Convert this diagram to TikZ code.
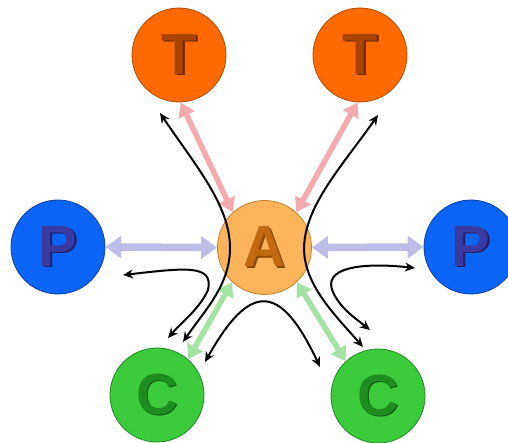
\documentclass[tikz,border=0pt]{standalone}
\usepackage{fontspec}
\setmainfont{Liberation Sans}
\usetikzlibrary{arrows.meta}
\definecolor{tfill}{HTML}{FF6A00}
\definecolor{tline}{HTML}{B04A00}
\definecolor{tink}{HTML}{A84400}
\definecolor{tshade}{HTML}{6E2600}
\definecolor{pfill}{HTML}{0A64F5}
\definecolor{pline}{HTML}{1040A0}
\definecolor{pink}{HTML}{3A3AA0}
\definecolor{pshade}{HTML}{20206E}
\definecolor{afill}{HTML}{FBB45A}
\definecolor{aline}{HTML}{C08030}
\definecolor{aink}{HTML}{C06A10}
\definecolor{ashade}{HTML}{8A4A00}
\definecolor{cfill}{HTML}{3CCB3C}
\definecolor{cline}{HTML}{208A20}
\definecolor{cink}{HTML}{1E8C1E}
\definecolor{cshade}{HTML}{0E5E0E}
\definecolor{tarrow}{HTML}{F5AAB0}
\definecolor{parrow}{HTML}{BDBDE8}
\definecolor{carrow}{HTML}{A5E3A5}
\newcommand{\bevel}[3]{\makebox[0pt][l]{\hspace{1.8pt}\raisebox{-1.8pt}{\textcolor{#3}{#1}}}\textcolor{#2}{#1}}
\tikzset{
  ball/.style={circle, minimum size=94pt, inner sep=0pt, line width=0.8pt,
    font=\fontsize{58}{58}\selectfont\bfseries},
  link/.style={line width=5.5pt, {Triangle[length=14pt,width=17pt]}-{Triangle[length=14pt,width=17pt]}},
  wide link/.style={line width=7.5pt, {Triangle[length=16pt,width=22pt]}-{Triangle[length=16pt,width=22pt]}},
  flow/.style={line width=2pt, {Stealth[length=10pt,width=9pt]}-{Stealth[length=10pt,width=9pt]}},
}

\begin{document}
\begin{tikzpicture}[x=1pt,y=-1pt]
  \useasboundingbox (0,0) rectangle (508,443);
  \clip (0,0) rectangle (508,443);
  % the five balls
  \node[ball, fill=tfill, draw=tline] (tl) at (179,55) {\bevel{T}{tink}{tshade}};
  \node[ball, fill=tfill, draw=tline] (tr) at (360,55) {\bevel{T}{tink}{tshade}};
  \node[ball, fill=pfill, draw=pline] (pl) at (58,247) {\bevel{P}{pink}{pshade}};
  \node[ball, fill=pfill, draw=pline] (pr) at (471,247) {\bevel{P}{pink}{pshade}};
  \node[ball, fill=afill, draw=aline] (a) at (264.5,247.5) {\bevel{A}{aink}{ashade}};
  \node[ball, fill=cfill, draw=cline] (cl) at (157,395) {\bevel{C}{cink}{cshade}};
  \node[ball, fill=cfill, draw=cline] (cr) at (378,396) {\bevel{C}{cink}{cshade}};
  % exchange arrows
  \draw[link, tarrow] (a.132) -- (tl.-88);
  \draw[link, tarrow] (a.48) -- (tr.-93);
  \draw[wide link, parrow] (a.180) -- (pl.0);
  \draw[wide link, parrow] (a.0) -- (pr.180);
  \draw[link, carrow] (a.227) -- (cl.49);
  \draw[link, carrow] (a.313) -- (cr.133);
  % black paths
  \coordinate (k1) at (160,113);
  \coordinate (k2) at (183,342);
  \coordinate (k3) at (378,115);
  \coordinate (k4) at (363,347);
  \coordinate (k5) at (123,275);
  \coordinate (k6) at (168,338);
  \coordinate (k7) at (415,268);
  \coordinate (k8) at (370,330);
  \coordinate (k9) at (205,362);
  \coordinate (k10) at (320,367);
  \draw[flow] (k1) .. controls (195,165) and (230,205) .. (230,248)
    .. controls (230,285) and (205,310) .. (k2);
  \draw[flow] (k3) .. controls (343,165) and (305,205) .. (304,248)
    .. controls (304,285) and (335,315) .. (k4);
  \draw[flow] (k5) .. controls (185,268) and (214,264) .. (208,290)
    .. controls (200,308) and (182,322) .. (k6);
  \draw[flow] (k7) .. controls (360,262) and (322,268) .. (333,292)
    .. controls (340,308) and (355,318) .. (k8);
  \draw[flow] (k9) .. controls (250,282) and (280,282) .. (k10);
\end{tikzpicture}
\end{document}
